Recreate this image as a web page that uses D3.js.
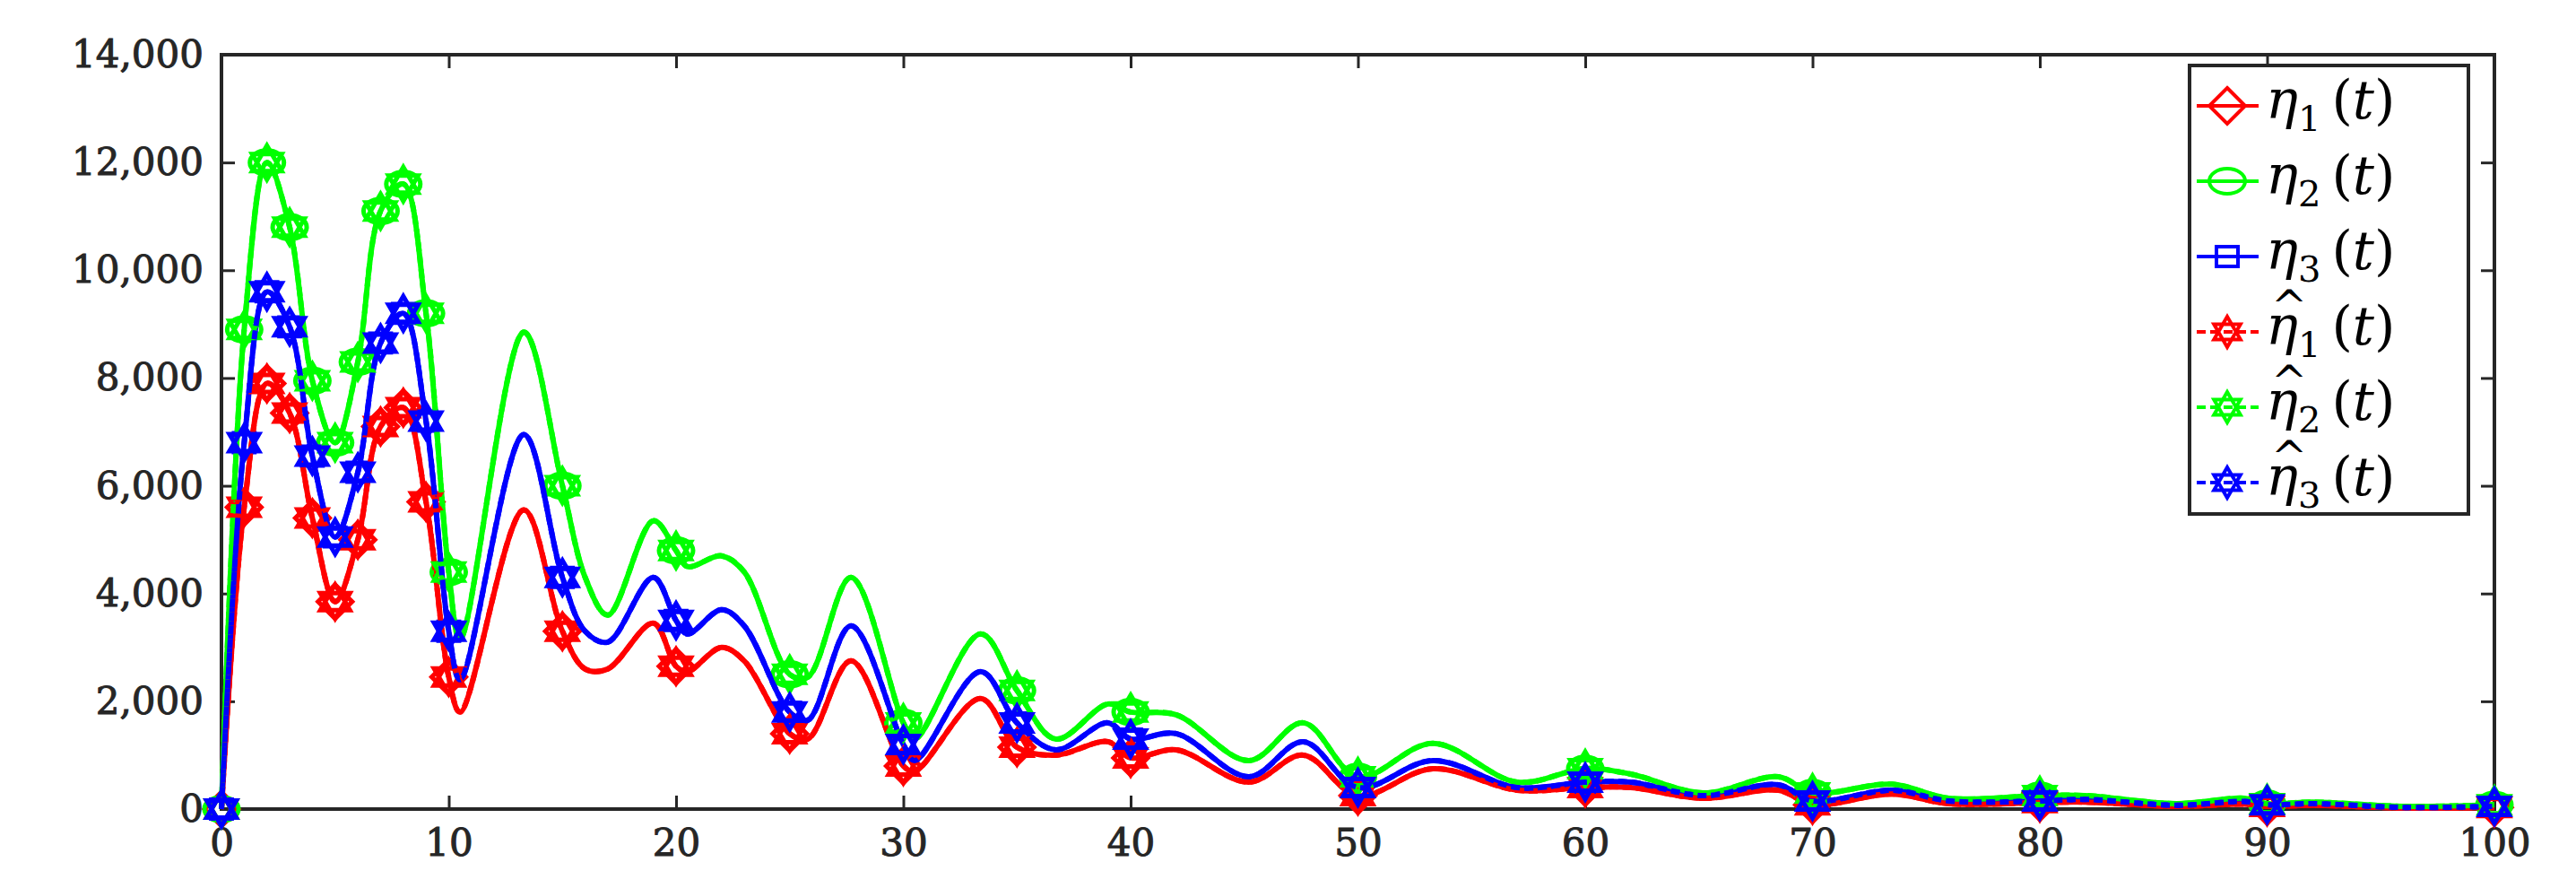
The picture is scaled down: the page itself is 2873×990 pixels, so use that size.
<!DOCTYPE html>
<html><head><meta charset="utf-8">
<script src="https://cdn.jsdelivr.net/npm/d3@7"></script>
<style>body{margin:0;background:#fff}svg{display:block}</style>
</head><body>
<svg id="chart" width="2873" height="990"></svg>
<script>
// 时间点与曲线数据
const tGrid = [0,1,2,3,4,5,6,7,8,9,10,10.5,13.3,15,16,17,19,20,20.5,22,23,25,25.8,27.7,30,30.5,33.4,35,36.7,39,40,42,45.2,47.6,50,53.3,57,60,62,65.2,68.5,70,73.5,76,80,82,86,89,90,92,96,100];
const eta1 = [0,5600,7900,7350,5400,3850,5000,7100,7450,5700,2450,1800,5550,3300,2600,2600,3450,2650,2550,3000,2750,1400,1300,2750,800,700,2050,1150,1000,1250,950,1100,500,1000,250,750,350,400,400,200,350,80,280,100,120,130,50,90,50,70,20,30];
const eta2 = [0,8900,12000,10800,7950,6800,8300,11100,11600,9200,4400,3150,8850,6000,4300,3600,5350,4800,4500,4700,4400,2500,2450,4300,1600,1300,3250,2200,1300,1950,1800,1750,900,1600,600,1220,500,750,650,300,600,300,460,200,250,250,100,200,100,130,50,80];
const eta3 = [0,6800,9600,8950,6550,5050,6250,8650,9200,7200,3300,2400,6950,4300,3300,3100,4300,3500,3250,3700,3400,1800,1650,3400,1200,900,2550,1600,1100,1600,1300,1400,600,1250,400,900,400,500,500,250,450,150,350,150,150,180,70,140,80,100,30,50];
// 估计值曲线与真实值几乎重合
const etaHat1 = eta1.slice();
const etaHat2 = eta2.slice();
const etaHat3 = eta3.slice();
const markerTimes = [0,1,2,3,4,5,6,7,8,9,10,15,20,25,30,35,40,50,60,70,80,90,100];
const xTicks = [0,10,20,30,40,50,60,70,80,90,100];
const yTicks = [0,2000,4000,6000,8000,10000,12000,14000];

const series = [
  {sub:'1', hat:false, color:'#ff0000', vals:eta1, marker:'diamond'},
  {sub:'2', hat:false, color:'#00ff00', vals:eta2, marker:'circle'},
  {sub:'3', hat:false, color:'#0000ff', vals:eta3, marker:'square'},
  {sub:'1', hat:true, color:'#ff0000', vals:etaHat1, marker:'hex'},
  {sub:'2', hat:true, color:'#00ff00', vals:etaHat2, marker:'hex'},
  {sub:'3', hat:true, color:'#0000ff', vals:etaHat3, marker:'hex'}
];

const svg = d3.select('#chart');
const L = 247, R = 2782, T = 61, B = 902;
const x = d3.scaleLinear().domain([0,100]).range([L,R]);
const y = d3.scaleLinear().domain([0,14000]).range([B,T]);
const font = '"DejaVu Serif","Liberation Serif",serif';

// 坐标轴
const ax = '#262626';
function styleAxis(g, withText){
  g.select('.domain').remove();
  g.selectAll('line').attr('stroke',ax).attr('stroke-width',3);
  if(withText) g.selectAll('text').attr('font-family',font).attr('font-size',42)
    .attr('fill',ax).attr('stroke',ax).attr('stroke-width',1);
}
svg.append('g').attr('transform',`translate(0,${B})`)
  .call(d3.axisBottom(x).tickValues(xTicks).tickSizeInner(-15).tickSizeOuter(0).tickPadding(22))
  .call(g=>styleAxis(g,true));
svg.append('g').attr('transform',`translate(0,${T})`)
  .call(d3.axisTop(x).tickValues(xTicks).tickSizeInner(-15).tickSizeOuter(0).tickFormat(''))
  .call(g=>styleAxis(g,false));
svg.append('g').attr('transform',`translate(${L},0)`)
  .call(d3.axisLeft(y).tickValues(yTicks).tickSizeInner(-15).tickSizeOuter(0).tickPadding(20).tickFormat(d3.format(',')))
  .call(g=>styleAxis(g,true));
svg.append('g').attr('transform',`translate(${R},0)`)
  .call(d3.axisRight(y).tickValues(yTicks).tickSizeInner(-15).tickSizeOuter(0).tickFormat(''))
  .call(g=>styleAxis(g,false));
svg.append('rect').attr('x',L).attr('y',T).attr('width',R-L).attr('height',B-T)
  .attr('fill','none').attr('stroke',ax).attr('stroke-width',4);

// 标记形状
function markerPath(type, s){
  if(type==='diamond') return `M0,${-s}L${s},0L0,${s}L${-s},0Z`;
  if(type==='circle') return `M${-s},0A${s},${s*0.7} 0 1,0 ${s},0A${s},${s*0.7} 0 1,0 ${-s},0Z`;
  if(type==='square') return `M${-s*0.6},${-s*0.55}H${s*0.6}V${s*0.55}H${-s*0.6}Z`;
  const a = s, h = s*0.5;
  return `M0,${-a}L${a*0.87},${h}L${-a*0.87},${h}Z M0,${a}L${a*0.87},${-h}L${-a*0.87},${-h}Z`;
}

const line = d3.line().x((d,i)=>x(tGrid[i])).y(d=>y(d)).curve(d3.curveCatmullRom.alpha(0.5));
const plot = svg.append('g');
series.forEach(s=>{
  plot.append('path').datum(s.vals).attr('d',line).attr('fill','none')
    .attr('stroke',s.color).attr('stroke-width',6)
    .attr('stroke-dasharray',s.hat?'10,5':null);
  const pts = markerTimes.map(t=>[t, s.vals[tGrid.indexOf(t)]]);
  plot.selectAll(null).data(pts).enter().append('path')
    .attr('transform',d=>`translate(${x(d[0])},${y(d[1])})`)
    .attr('d',markerPath(s.marker,s.marker==='hex'?19:19))
    .attr('fill','none').attr('stroke',s.color).attr('stroke-width',5);
});

// 图例
const lg = svg.append('g');
lg.append('rect').attr('x',2442).attr('y',73).attr('width',311).attr('height',500)
  .attr('fill','#fff').attr('stroke',ax).attr('stroke-width',4);
series.forEach((s,i)=>{
  const cy = 118 + i*84;
  lg.append('line').attr('x1',2450).attr('x2',2519).attr('y1',cy).attr('y2',cy)
    .attr('stroke',s.color).attr('stroke-width',4).attr('stroke-dasharray',s.hat?'10,5':null);
  lg.append('path').attr('transform',`translate(2484,${cy})`).attr('d',markerPath(s.marker,s.marker==='hex'?17:20))
    .attr('fill','none').attr('stroke',s.color).attr('stroke-width',4);
  const tx = lg.append('text').attr('x',2527).attr('y',cy+14).attr('font-family',font)
    .attr('font-size',60).attr('fill','#000');
  tx.append('tspan').attr('font-style','italic').text('η');
  tx.append('tspan').attr('font-size',40).attr('dy',14).text(s.sub);
  tx.append('tspan').attr('dy',-14).attr('dx',12).text('(');
  tx.append('tspan').attr('font-style','italic').text('t');
  tx.append('tspan').text(')');
  if(s.hat){
    lg.append('text').attr('x',2553).attr('y',cy-12).attr('text-anchor','middle')
      .attr('font-family',font).attr('font-size',48).attr('fill','#000').text('^');
  }
});
</script>
</body></html>
